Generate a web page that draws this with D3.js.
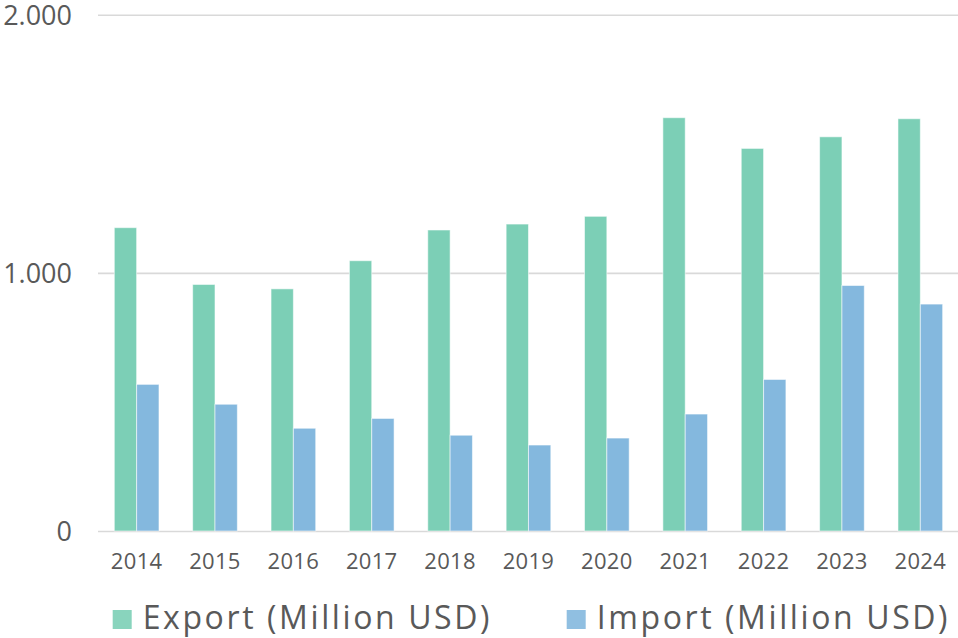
<!DOCTYPE html>
<html>
<head>
<meta charset="utf-8">
<script src="https://cdn.jsdelivr.net/npm/d3@7"></script>
<style>
  html, body { margin: 0; padding: 0; background: #fff; }
  svg { display: block; }
  text { font-family: "Open Sans", "Noto Sans", sans-serif; fill: #595959; }
</style>
</head>
<body>
<svg id="chart" width="958" height="638"></svg>
<script>
// Trade figures by year
const years = ["2014", "2015", "2016", "2017", "2018", "2019", "2020", "2021", "2022", "2023", "2024"];
const exportValues = [1175, 955, 938, 1047, 1166, 1189, 1219, 1601, 1482, 1527, 1597];
const importValues = [568, 491, 398, 436, 371, 333, 360, 453, 587, 951, 879];
const seriesNames = ["Export (Million USD)", "Import (Million USD)"];
const seriesColors = ["#7ccfb6", "#84b8de"];
const yTicks = [0, 1000, 2000];

const svg = d3.select("#chart");
const plotLeft = 98, plotRight = 958, plotTop = 14.7, plotBottom = 531;

const y = d3.scaleLinear().domain([0, 2000]).range([plotBottom, plotTop]);
const x = d3.scaleBand().domain(years).range([97.45, 959.5])
  .paddingInner(0.43).paddingOuter(0.215);
const xSub = d3.scaleBand().domain(seriesNames).range([0, x.bandwidth()]);

const fmt = v => d3.format(",")(v).replace(/,/g, ".");

// horizontal gridlines
const grid = svg.append("g")
  .attr("transform", `translate(${plotLeft},0)`)
  .call(d3.axisLeft(y).tickValues(yTicks).tickSize(-(plotRight - plotLeft)).tickFormat(""));
grid.select(".domain").remove();
grid.selectAll(".tick line").attr("stroke", "#d9d9d9").attr("stroke-width", 1.6);

// y tick labels
const yAxis = svg.append("g")
  .attr("transform", "translate(72,0)")
  .call(d3.axisLeft(y).tickValues(yTicks).tickSize(0).tickPadding(0).tickFormat(fmt));
yAxis.select(".domain").remove();
yAxis.selectAll("text").style("font-size", "27px").attr("dy", "0.35em")
  .attr("fill", "#595959");

// bars
const rows = years.map((yr, i) => ({ year: yr, values: [exportValues[i], importValues[i]] }));
const groups = svg.append("g").selectAll("g").data(rows).join("g")
  .attr("transform", d => `translate(${x(d.year)},0)`);
groups.selectAll("rect")
  .data(d => d.values.map((v, k) => ({ key: seriesNames[k], value: v, k })))
  .join("rect")
  .attr("x", d => xSub(d.key))
  .attr("width", xSub.bandwidth())
  .attr("y", d => y(d.value))
  .attr("height", d => y(0) - y(d.value))
  .attr("fill", d => seriesColors[d.k])
  .attr("stroke", "rgba(255,255,255,0.55)")
  .attr("stroke-width", 1);

// x tick labels
const xAxis = svg.append("g")
  .attr("transform", `translate(0,${plotBottom})`)
  .call(d3.axisBottom(x).tickSize(0).tickPadding(0));
xAxis.select(".domain").remove();
xAxis.selectAll("text").style("font-size", "22px").style("letter-spacing", "0.3px")
  .attr("y", 38).attr("dy", 0).attr("fill", "#595959");

// legend
const legendX = [112.7, 566.7];
const legend = svg.append("g").selectAll("g").data(seriesNames).join("g")
  .attr("transform", (d, i) => `translate(${legendX[i]},610)`);
legend.append("rect").attr("width", 19).attr("height", 19)
  .attr("fill", (d, i) => seriesColors[i]).attr("opacity", 0.9);
legend.append("text").attr("x", 30).attr("y", 19)
  .style("font-size", "32px").style("letter-spacing", "2.6px")
  .text(d => d);
</script>
</body>
</html>
